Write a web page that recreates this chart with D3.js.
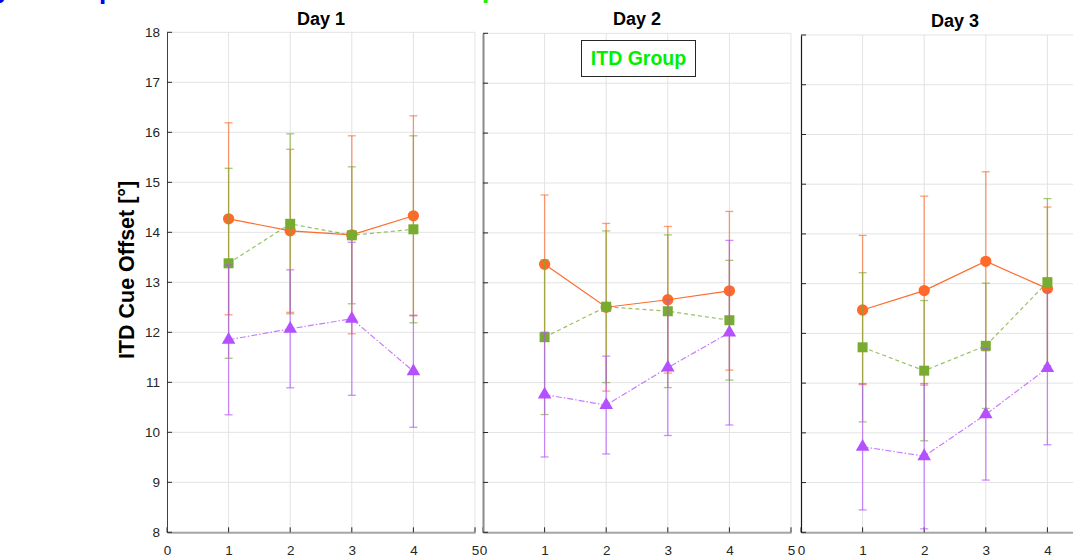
<!DOCTYPE html>
<html>
<head>
<meta charset="utf-8">
<script src="https://cdn.jsdelivr.net/npm/d3@7"></script>
<style>
  html, body { margin: 0; padding: 0; background: #fff; }
  svg { display: block; font-family: Arial, "Liberation Sans", sans-serif; }
</style>
</head>
<body>
<svg id="chart" width="1073" height="560"></svg>
<script>
// ITD cue offset per session, three training days, three groups
const days = ["Day 1", "Day 2", "Day 3"];
const sessions = [1, 2, 3, 4];
const xTicks = [0, 1, 2, 3, 4, 5];
const yTicks = [8, 9, 10, 11, 12, 13, 14, 15, 16, 17, 18];

// orange circles, solid line
const orangeMean = [[14.27, 14.03, 13.95, 14.33], [13.37, 12.51, 12.66, 12.84], [12.47, 12.86, 13.45, 12.90]];
const orangeErr  = [[1.92, 1.63, 1.98, 2.00], [1.39, 1.68, 1.47, 1.59], [1.50, 1.90, 1.80, 1.64]];
// green squares, dashed line
const greenMean  = [[13.38, 14.17, 13.94, 14.06], [11.91, 12.52, 12.43, 12.25], [11.72, 11.25, 11.75, 13.03]];
const greenErr   = [[1.90, 1.80, 1.37, 1.87], [1.55, 1.52, 1.53, 1.20], [1.50, 1.41, 1.26, 1.68]];
// purple triangles, dash-dot line
const purpleMean = [[11.85, 12.07, 12.27, 11.22], [10.76, 10.55, 11.30, 12.00], [9.72, 9.53, 10.37, 11.30]];
const purpleErr  = [[1.50, 1.18, 1.53, 1.12], [1.25, 0.98, 1.36, 1.85], [1.27, 1.46, 1.32, 1.54]];

const series = [
  { mean: orangeMean, err: orangeErr, color: "#ff6a2b", symbol: d3.symbolCircle, size: 100, dash: null, lineOpacity: 1 },
  { mean: greenMean, err: greenErr, color: "#77ac30", symbol: d3.symbolSquare, size: 100, dash: "4,3", lineOpacity: 0.75 },
  { mean: purpleMean, err: purpleErr, color: "#b450ff", symbol: d3.symbolTriangle, size: 80, dash: "6,2,1.5,2", lineOpacity: 0.75 }
];

const svg = d3.select("#chart");

// panel frames
const panels = [
  { left: 167, right: 475, top: 32.3, bottom: 532.3, axisColor: "#404040", axisWidth: 1 },
  { left: 483, right: 791, top: 33.3, bottom: 532.3, axisColor: "#8a8a8a", axisWidth: 2 },
  { left: 801, right: 1109, top: 35, bottom: 532.3, axisColor: "#1a1a1a", axisWidth: 1.2 }
];

// heading line above the figure, mostly outside the top edge
const head = svg.append("g").attr("font-weight", "bold").attr("font-size", 26);
head.append("text").attr("x", -4).attr("y", -2.5).attr("fill", "#0000ff").text("y");
head.append("text").attr("x", 99).attr("y", -1.5).attr("fill", "#0000ff").text("p");
head.append("text").attr("x", 482).attr("y", -2).attr("fill", "#22ee00").text("p");

panels.forEach((p, i) => {
  const x = d3.scaleLinear().domain([0, 5]).range([p.left, p.right]);
  const y = d3.scaleLinear().domain([8, 18]).range([p.bottom, p.top]);
  const g = svg.append("g");

  // grid
  g.append("g").selectAll("line").data(yTicks).join("line")
    .attr("x1", p.left).attr("x2", p.right)
    .attr("y1", d => y(d)).attr("y2", d => y(d))
    .attr("stroke", "#e3e3e3").attr("stroke-width", 1);
  g.append("g").selectAll("line").data(xTicks.slice(1)).join("line")
    .attr("x1", d => x(d)).attr("x2", d => x(d))
    .attr("y1", p.top).attr("y2", p.bottom)
    .attr("stroke", "#e3e3e3").attr("stroke-width", 1);

  // bottom axis
  const xAxis = d3.axisBottom(x).tickValues(xTicks).tickSize(0).tickPadding(13).tickFormat(d3.format("d"));
  const xa = g.append("g").attr("transform", `translate(0,${p.bottom})`).call(xAxis);
  xa.select(".domain").attr("stroke", "#a6a6a6").attr("stroke-width", 2);
  xa.selectAll("text").attr("font-size", 13.5).attr("fill", "#262626")
    .attr("font-family", "Arial, 'Liberation Sans', sans-serif");
  g.append("g").selectAll("line").data(xTicks).join("line")
    .attr("x1", d => x(d)).attr("x2", d => x(d))
    .attr("y1", p.bottom).attr("y2", p.bottom - 5)
    .attr("stroke", "#262626").attr("stroke-width", 1);

  // left axis (labels only on the first panel)
  const yAxis = d3.axisLeft(y).tickValues(yTicks).tickSize(0).tickPadding(7)
    .tickFormat(i === 0 ? d3.format("d") : () => "");
  const ya = g.append("g").attr("transform", `translate(${p.left},0)`).call(yAxis);
  ya.select(".domain").attr("stroke", p.axisColor).attr("stroke-width", p.axisWidth);
  ya.selectAll("text").attr("font-size", 13.5).attr("fill", "#262626")
    .attr("font-family", "Arial, 'Liberation Sans', sans-serif");
  g.append("g").selectAll("line").data(yTicks).join("line")
    .attr("x1", p.left).attr("x2", p.left + 5)
    .attr("y1", d => y(d)).attr("y2", d => y(d))
    .attr("stroke", "#262626").attr("stroke-width", 1);

  // title
  g.append("text").attr("x", (p.left + p.right) / 2).attr("y", 25 + (i === 2 ? 2 : 0))
    .attr("text-anchor", "middle").attr("font-weight", "bold").attr("font-size", 18)
    .attr("fill", "#000").text(days[i]);

  // series: error bars, connecting line, markers
  series.forEach(s => {
    const pts = sessions.map((k, j) => ({ k, m: s.mean[i][j], e: s.err[i][j] }));
    const eb = g.append("g").attr("stroke", s.color).attr("stroke-opacity", 0.65).attr("stroke-width", 1.3);
    eb.selectAll("line.v").data(pts).join("line").attr("class", "v")
      .attr("x1", d => x(d.k)).attr("x2", d => x(d.k))
      .attr("y1", d => y(d.m - d.e)).attr("y2", d => y(d.m + d.e));
    eb.selectAll("line.t").data(pts).join("line").attr("class", "t")
      .attr("x1", d => x(d.k) - 4).attr("x2", d => x(d.k) + 4)
      .attr("y1", d => y(d.m + d.e)).attr("y2", d => y(d.m + d.e));
    eb.selectAll("line.b").data(pts).join("line").attr("class", "b")
      .attr("x1", d => x(d.k) - 4).attr("x2", d => x(d.k) + 4)
      .attr("y1", d => y(d.m - d.e)).attr("y2", d => y(d.m - d.e));

    g.append("path").datum(pts)
      .attr("d", d3.line().x(d => x(d.k)).y(d => y(d.m)))
      .attr("fill", "none").attr("stroke", s.color).attr("stroke-width", 1.2)
      .attr("stroke-opacity", s.lineOpacity)
      .attr("stroke-dasharray", s.dash);

    g.append("g").selectAll("path").data(pts).join("path")
      .attr("transform", d => `translate(${x(d.k)},${y(d.m)})`)
      .attr("d", d3.symbol().type(s.symbol).size(s.size))
      .attr("fill", s.color);
  });
});

// group label box on the middle panel
const box = svg.append("g");
box.append("rect").attr("x", 581.5).attr("y", 40.5).attr("width", 114).attr("height", 36)
  .attr("fill", "#fff").attr("stroke", "#262626").attr("stroke-width", 1);
box.append("text").attr("x", 638.5).attr("y", 64.5).attr("text-anchor", "middle")
  .attr("font-weight", "bold").attr("font-size", 19.5).attr("fill", "#00f000").text("ITD Group");

// y-axis label
svg.append("text")
  .attr("transform", "translate(134,270) rotate(-90)")
  .attr("text-anchor", "middle").attr("font-weight", "bold").attr("font-size", 21.5)
  .attr("fill", "#000").text("ITD Cue Offset [°]");
</script>
</body>
</html>
